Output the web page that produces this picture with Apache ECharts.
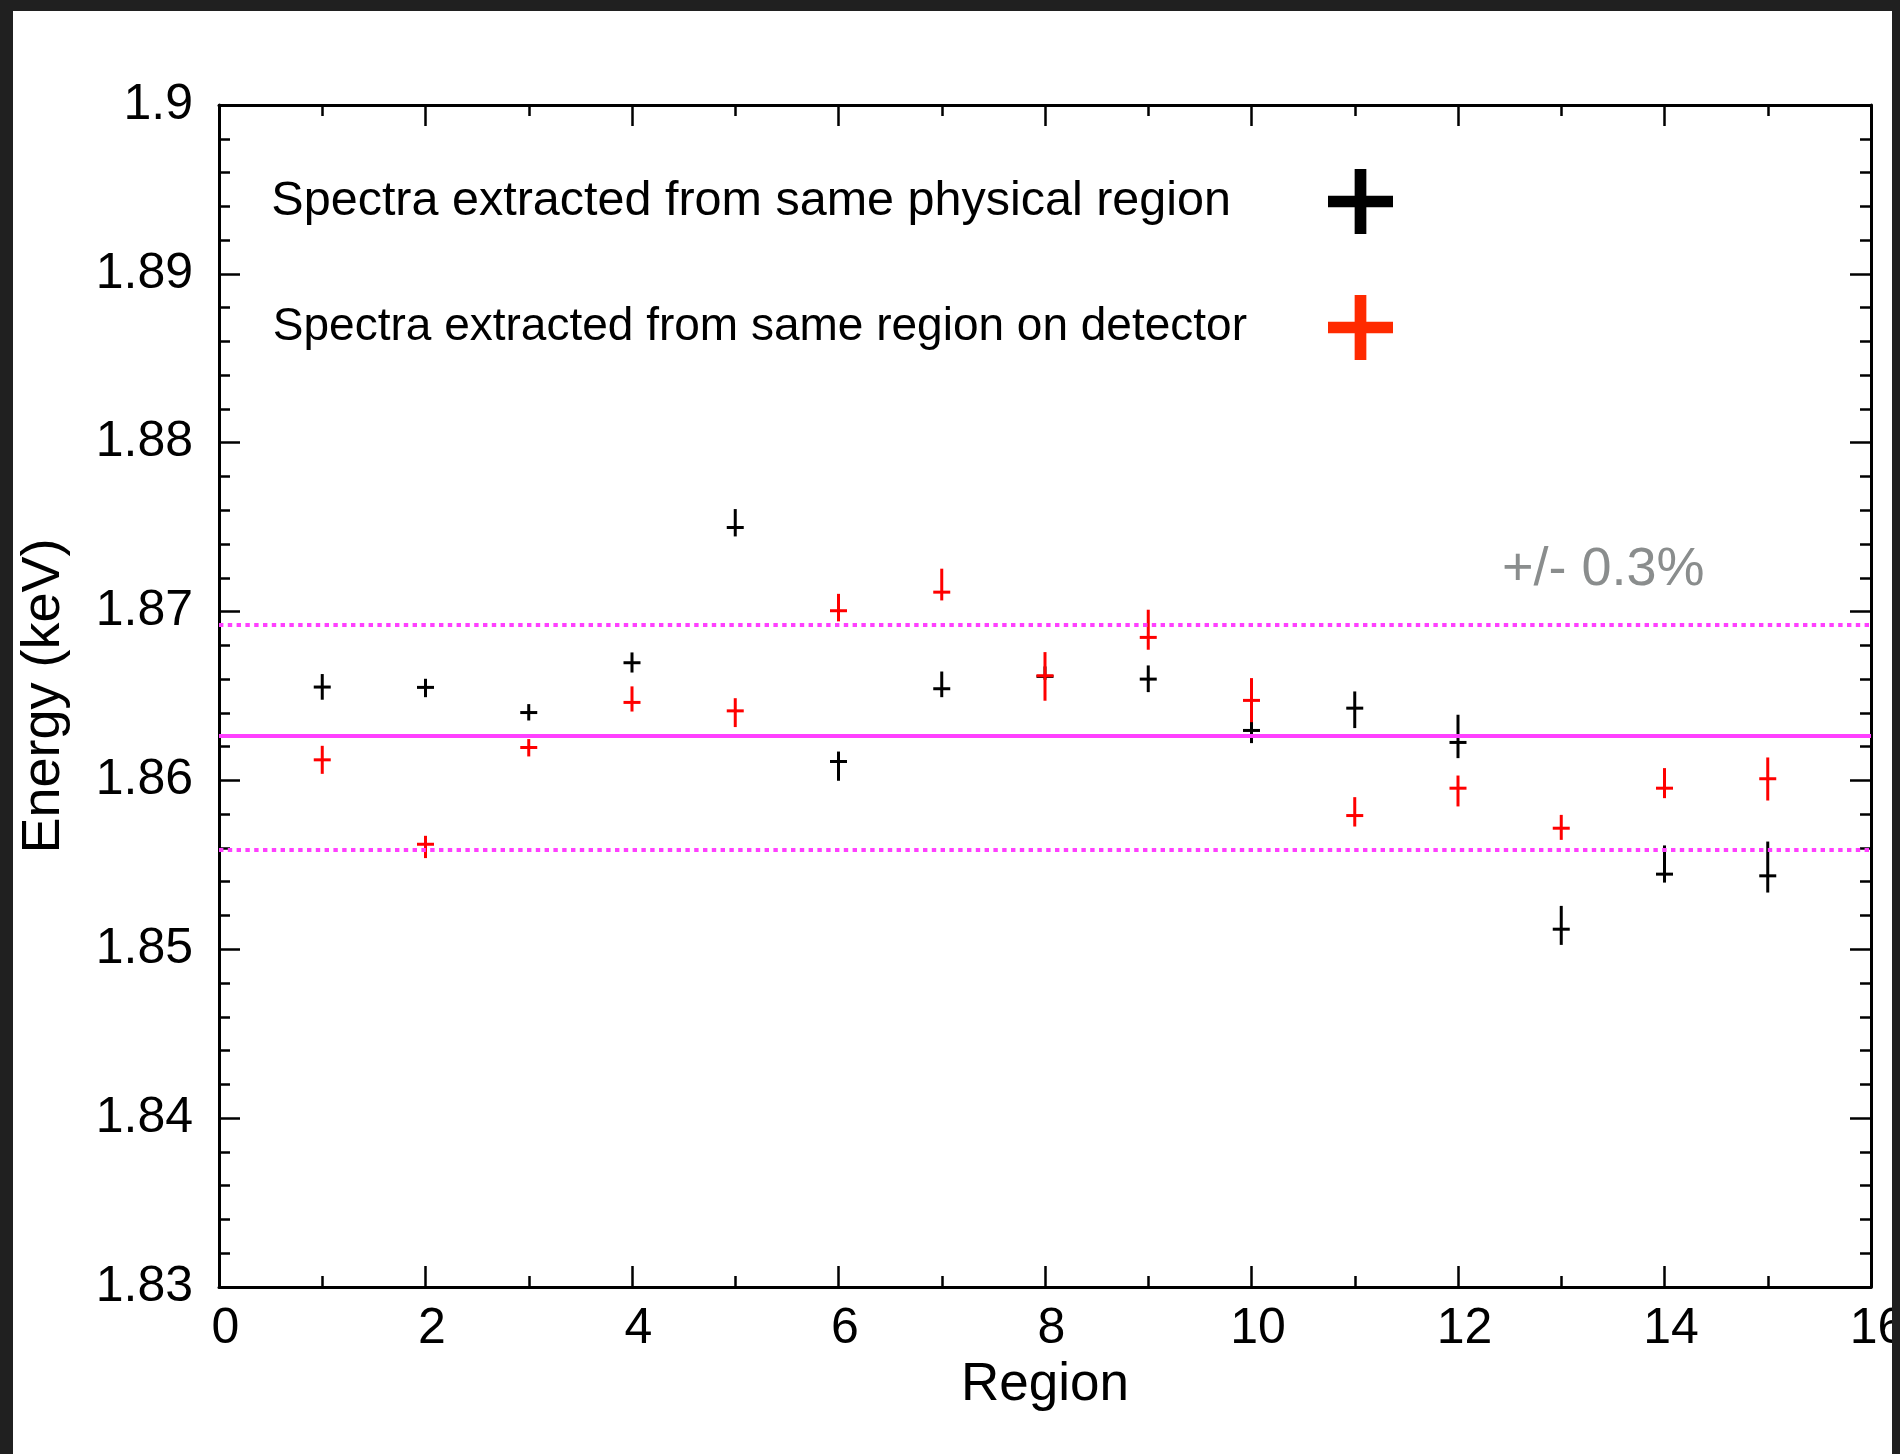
<!DOCTYPE html>
<html>
<head>
<meta charset="utf-8">
<title>Energy per region</title>
<script src="https://cdn.jsdelivr.net/npm/echarts@6/dist/echarts.min.js"></script>
<style>
  html, body { margin: 0; padding: 0; background: #202020; }
  #chart {
    position: absolute;
    left: 13px;
    top: 11px;
    width: 1879px;
    height: 1443px;
    background: #fff;
  }
</style>
</head>
<body>
<div id="chart"></div>
<script>
// region index on the x axis
const regions = [1, 2, 3, 4, 5, 6, 7, 8, 9, 10, 11, 12, 13, 14, 15];

// spectra from the same physical region (black)
const physCenter = [1.86553, 1.86551, 1.86402, 1.86697, 1.87498, 1.86112, 1.86543, 1.86616, 1.86600, 1.86296, 1.86428, 1.86225, 1.85119, 1.85445, 1.85435];
const physLow    = [1.86478, 1.86493, 1.86355, 1.86639, 1.87445, 1.85998, 1.86493, 1.86596, 1.86523, 1.86221, 1.86310, 1.86132, 1.85026, 1.85395, 1.85336];
const physHigh   = [1.86630, 1.86602, 1.86452, 1.86758, 1.87607, 1.86171, 1.86645, 1.86675, 1.86681, 1.86349, 1.86527, 1.86389, 1.85257, 1.85615, 1.85638];

// spectra from the same region on the detector (red)
const detCenter = [1.86122, 1.85622, 1.86195, 1.86462, 1.86412, 1.87005, 1.87115, 1.86620, 1.86847, 1.86474, 1.85792, 1.85954, 1.85717, 1.85954, 1.86010];
const detLow    = [1.86039, 1.85540, 1.86142, 1.86408, 1.86316, 1.86942, 1.87066, 1.86472, 1.86774, 1.86345, 1.85727, 1.85846, 1.85648, 1.85895, 1.85881];
const detHigh   = [1.86205, 1.85672, 1.86245, 1.86557, 1.86487, 1.87105, 1.87254, 1.86760, 1.87011, 1.86606, 1.85901, 1.86029, 1.85796, 1.86073, 1.86136];

// mean level and the +/- band
const meanLevel = 1.86265;
const bandHigh = 1.86920;
const bandLow = 1.85592;

const namePhys = "Spectra extracted from same physical region";
const nameDet = "Spectra extracted from same region on detector";
const bandText = "+/- 0.3%";

const FONT = "'Liberation Sans', Arial, Helvetica, sans-serif";
const plusIcon = "path://M41,0H59V41H100V59H59V100H41V59H0V41H41Z";

function toRows(center, low, high) {
  return regions.map((r, i) => [r, center[i], low[i], high[i]]);
}

function renderErrorBar(params, api) {
  const x = api.value(0);
  const c = api.coord([x, api.value(1)]);
  const lo = api.coord([x, api.value(2)]);
  const hi = api.coord([x, api.value(3)]);
  const color = api.visual("color");
  const style = { stroke: color, lineWidth: 3, fill: null };
  return {
    type: "group",
    children: [
      { type: "line", shape: { x1: c[0], y1: hi[1], x2: c[0], y2: lo[1] }, style: style },
      { type: "line", shape: { x1: c[0] - 8.5, y1: c[1], x2: c[0] + 8.5, y2: c[1] }, style: style }
    ]
  };
}

const tickCommon = {
  axisLine: { show: true, onZero: false, lineStyle: { color: "#000", width: 3 } },
  axisTick: { show: true, inside: true, length: 21, lineStyle: { color: "#000", width: 2.5 } },
  minorTick: { show: true, length: 11, lineStyle: { color: "#000", width: 2.5 } },
  splitLine: { show: false }
};

const chart = echarts.init(document.getElementById("chart"));

const option = {
  animation: false,
  backgroundColor: "#fff",
  textStyle: { fontFamily: FONT },
  grid: { left: 206, right: 21, top: 94, bottom: 167, outerBoundsMode: "none", containLabel: false },
  xAxis: [
    Object.assign({
      type: "value",
      min: 0,
      max: 16,
      interval: 2,
      position: "bottom",
      name: "Region",
      nameLocation: "middle",
      nameGap: 68,
      nameTextStyle: { fontSize: 53, color: "#000", fontFamily: FONT },
      axisLabel: { fontSize: 50, color: "#000", margin: 17, padding: [0, 0, 0, 13], fontFamily: FONT }
    }, tickCommon, { minorTick: Object.assign({ splitNumber: 2 }, tickCommon.minorTick) }),
    Object.assign({
      type: "value",
      min: 0,
      max: 16,
      interval: 2,
      position: "top",
      axisLabel: { show: false }
    }, tickCommon, { minorTick: Object.assign({ splitNumber: 2 }, tickCommon.minorTick) })
  ],
  yAxis: [
    Object.assign({
      type: "value",
      min: 1.83,
      max: 1.9,
      interval: 0.01,
      position: "left",
      name: "Energy (keV)",
      nameLocation: "middle",
      nameGap: 148,
      nameTextStyle: { fontSize: 54, color: "#000", fontFamily: FONT },
      axisLabel: { fontSize: 50, color: "#000", margin: 26, fontFamily: FONT }
    }, tickCommon, { minorTick: Object.assign({ splitNumber: 5 }, tickCommon.minorTick) }),
    Object.assign({
      type: "value",
      min: 1.83,
      max: 1.9,
      interval: 0.01,
      position: "right",
      axisLabel: { show: false }
    }, tickCommon, { minorTick: Object.assign({ splitNumber: 5 }, tickCommon.minorTick) })
  ],
  legend: [
    {
      data: [{ name: namePhys, icon: plusIcon, itemStyle: { color: "#000" } }],
      selectedMode: false,
      right: 494,
      top: 153,
      align: "right",
      itemWidth: 65,
      itemHeight: 65,
      textStyle: { fontSize: 48.5, color: "#000", fontFamily: FONT, padding: [0, 92, 0, 0] }
    },
    {
      data: [{ name: nameDet, icon: plusIcon, itemStyle: { color: "#ff2a00" } }],
      selectedMode: false,
      right: 494,
      top: 279,
      align: "right",
      itemWidth: 65,
      itemHeight: 65,
      textStyle: { fontSize: 46, color: "#000", fontFamily: FONT, padding: [0, 76, 0, 0] }
    }
  ],
  graphic: [
    {
      type: "text",
      left: 1489,
      top: 532,
      style: { text: bandText, fontSize: 54, fill: "#8a8d8d", fontFamily: FONT }
    }
  ],
  series: [
    {
      name: namePhys,
      type: "custom",
      renderItem: renderErrorBar,
      itemStyle: { color: "#000" },
      encode: { x: 0, y: [1, 2, 3] },
      data: toRows(physCenter, physLow, physHigh),
      z: 3
    },
    {
      name: nameDet,
      type: "custom",
      renderItem: renderErrorBar,
      itemStyle: { color: "#ff0000" },
      encode: { x: 0, y: [1, 2, 3] },
      data: toRows(detCenter, detLow, detHigh),
      z: 3,
      markLine: {
        silent: true,
        symbol: "none",
        precision: 6,
        label: { show: false },
        z: 5,
        data: [
          { yAxis: meanLevel, lineStyle: { color: "#ff40ff", width: 4, type: "solid" } },
          { yAxis: bandHigh, lineStyle: { color: "#ff40ff", width: 4, type: [4.4, 4.4] } },
          { yAxis: bandLow, lineStyle: { color: "#ff40ff", width: 4, type: [4.4, 4.4] } }
        ]
      }
    }
  ]
};

chart.setOption(option);
</script>
</body>
</html>
